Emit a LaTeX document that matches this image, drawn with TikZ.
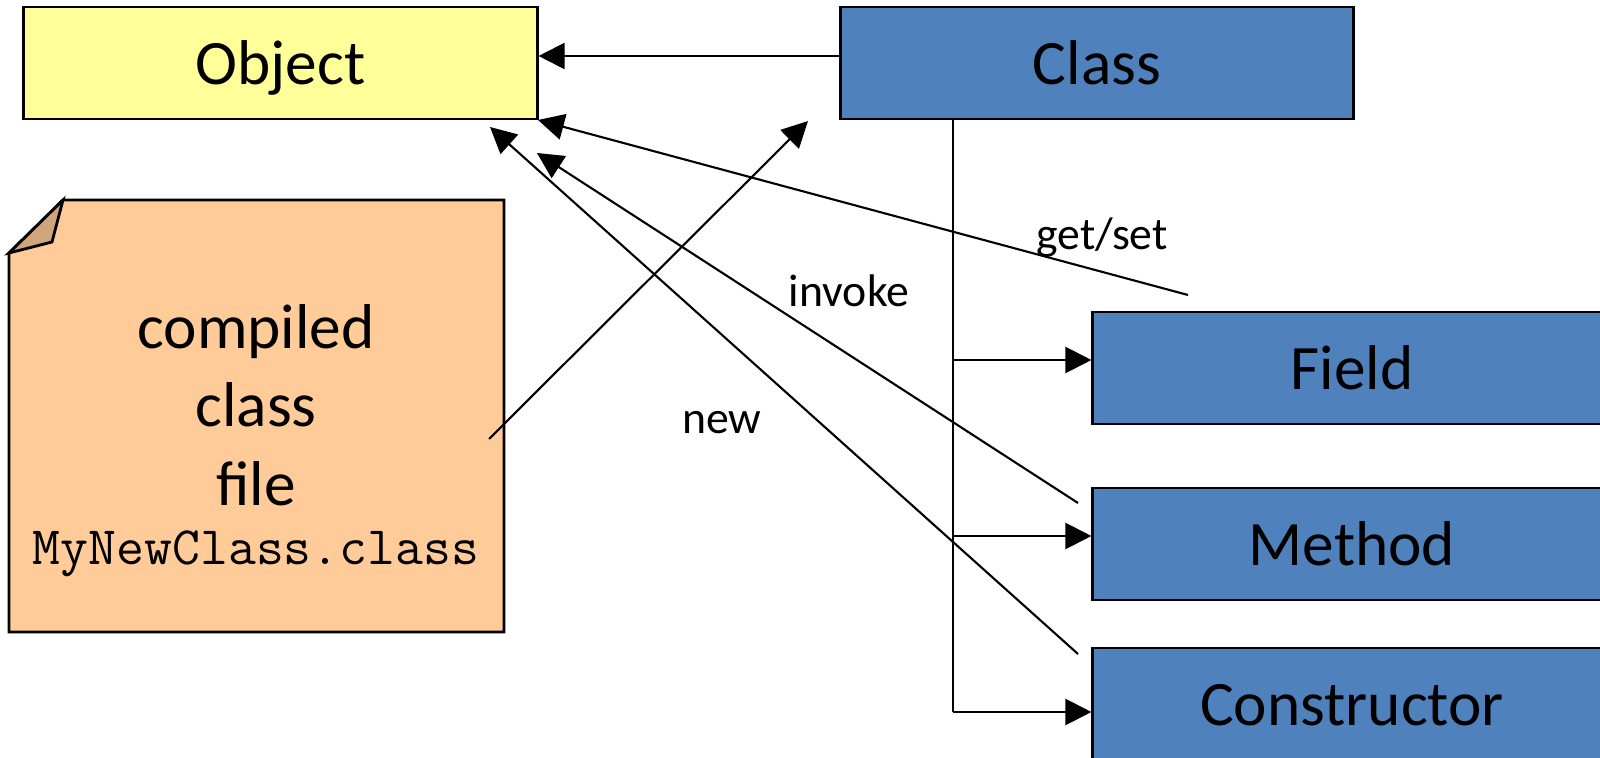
\documentclass[tikz,border=0pt]{standalone}
\usepackage{fontspec}
\setmainfont{Carlito}
\usetikzlibrary{arrows.meta}
\definecolor{objyellow}{HTML}{FFFF99}
\definecolor{clsblue}{HTML}{4F81BD}
\definecolor{noteorange}{HTML}{FFCC99}
\definecolor{notefold}{RGB}{207,166,122}
\tikzset{
  box/.style={draw=black, line width=0.8pt, inner sep=0pt, minimum height=1.12cm,
    font=\fontsize{18}{22}\selectfont, text height=14pt, text depth=1.5pt},
  objbox/.style={box, fill=objyellow, minimum width=5.13cm},
  clsbox/.style={box, fill=clsblue, minimum width=5.12cm},
  membox/.style={box, fill=clsblue, minimum width=5.18cm},
  arr/.style={line width=0.6pt, -{Triangle[length=0.26cm,width=0.26cm]}},
  plain/.style={line width=0.6pt},
  lbl/.style={anchor=base, inner sep=0pt, font=\fontsize{13}{15}\selectfont},
  notetxt/.style={anchor=base, inner sep=0pt, font=\fontsize{18}{22}\selectfont},
  notemono/.style={anchor=base, inner sep=0pt, font=\fontsize{15.4}{18}\selectfont\ttfamily}
}
\begin{document}
\begin{tikzpicture}[x=0.01cm,y=-0.01cm]
\useasboundingbox (0,0) rectangle (1600,758);
% note shape
\coordinate (nA) at (63,200);
\coordinate (nB) at (504,200);
\coordinate (nC) at (504,632);
\coordinate (nD) at (9,632);
\coordinate (nE) at (9,253);
\coordinate (nF) at (52,242);
\filldraw[fill=noteorange, draw=black, line width=0.8pt, line join=miter]
  (nA) -- (nB) -- (nC) -- (nD) -- (nE) -- cycle;
\filldraw[fill=notefold, draw=black, line width=0.8pt, line join=miter]
  (nE) -- (nF) -- (nA) -- cycle;
\node[notetxt] (n1) at (256,349) {compiled};
\node[notetxt] (n2) at (256,427) {class};
\node[notetxt] (n3) at (256,505) {file};
\node[notemono] (n4) at (256,564) {MyNewClass.class};

% boxes
\node[objbox] (Object) at (280.5,63) {Object};
\node[clsbox] (Class) at (1097,63) {Class};
\node[membox] (Field) at (1352,368) {Field};
\node[membox] (Method) at (1352,544) {Method};
\node[membox] (Constructor) at (1352,704) {Constructor};

% Class -> Object
\draw[arr] (Class.west |- 0,56) -- (Object.east |- 0,56);

% trunk from Class
\coordinate (trunkTop) at (Class.south -| 953,0);
\coordinate (trunkBot) at (953,712);
\draw[plain] (trunkTop) -- (trunkBot);
\draw[arr] (953,360) -- (Field.west |- 0,360);
\draw[arr] (953,536) -- (Method.west |- 0,536);
\draw[arr] (trunkBot) -- (Constructor.west |- 0,712);

% file -> Class
\coordinate (cfS) at (489,439);
\coordinate (cfT) at (808,121);
\draw[arr] (cfS) -- (cfT);

% get/set
\coordinate (gsS) at (1188,295);
\coordinate (gsT) at (538,120);
\draw[arr] (gsS) -- (gsT);

% invoke
\coordinate (ivS) at (1078,503);
\coordinate (ivT) at (537,153);
\draw[arr] (ivS) -- (ivT);

% new
\coordinate (nwS) at (1078,654);
\coordinate (nwT) at (490,127);
\draw[arr] (nwS) -- (nwT);

% labels
\node[lbl] (lgs) at (1102,250) {get/set};
\node[lbl] (linv) at (849,307) {invoke};
\node[lbl] (lnew) at (722,433) {new};
\end{tikzpicture}
\end{document}
